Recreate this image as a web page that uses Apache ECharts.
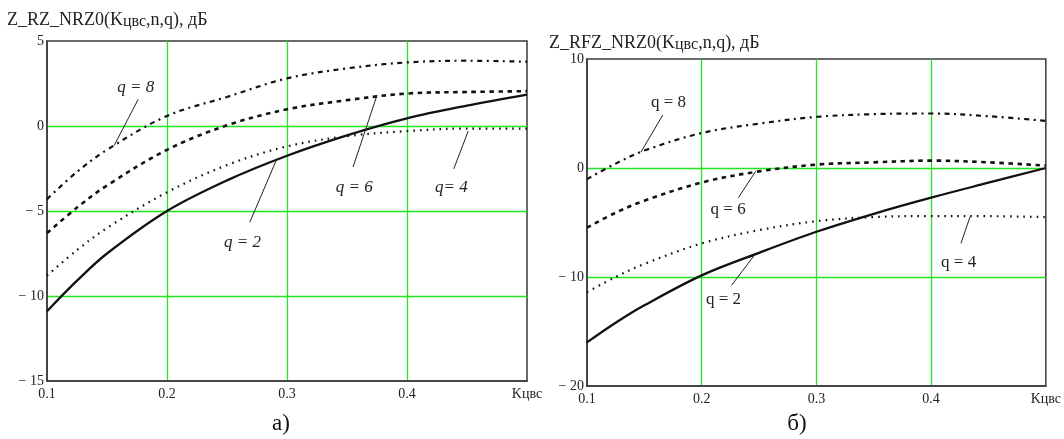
<!DOCTYPE html>
<html><head><meta charset="utf-8">
<script src="https://cdn.jsdelivr.net/npm/echarts@6/dist/echarts.min.js"></script>
<style>html,body{margin:0;padding:0;background:#fff}#c{width:1064px;height:439px}</style>
</head><body><div id="c"></div>
<script>
// ---- data ----
const xValues = [0.1, 0.125, 0.15, 0.2, 0.25, 0.3, 0.35, 0.4, 0.45, 0.5];
const leftQ2  = [-10.9, -9.1, -7.5, -5.0, -3.2, -1.75, -0.55, 0.45, 1.2, 1.85];
const leftQ4  = [-8.8, -7.3, -6.0, -3.9, -2.3, -1.2, -0.6, -0.3, -0.15, -0.15];
const leftQ6  = [-6.3, -4.8, -3.5, -1.4, 0.04, 0.98, 1.52, 1.91, 2.0, 2.05];
const leftQ8  = [-4.3, -2.7, -1.4, 0.59, 1.71, 2.8, 3.39, 3.74, 3.84, 3.78];
const rightQ2 = [-16.0, -14.2, -12.6, -9.85, -7.78, -5.85, -4.2, -2.72, -1.35, 0];
const rightQ4 = [-11.38, -10.0, -8.8, -6.92, -5.7, -4.88, -4.5, -4.41, -4.42, -4.5];
const rightQ6 = [-5.48, -4.1, -3.0, -1.33, -0.31, 0.31, 0.52, 0.68, 0.52, 0.22];
const rightQ8 = [-1.02, 0.4, 1.6, 3.21, 4.07, 4.69, 4.94, 5.0, 4.75, 4.32];
const xTickLabels = ['0.1', '0.2', '0.3', '0.4', 'Kцвс'];
const leftTitle = 'Z_RZ_NRZ0(K{s|цвс},n,q), дБ';
const rightTitle = 'Z_RFZ_NRZ0(K{s|цвс},n,q), дБ';
const leftCaption = 'а)';
const rightCaption = 'б)';
// annotations (data coordinates): label text, label point, leader line from/to
const leftNotes = [
  {text: 'q = 8', at: [0.174, 2.26], from: [0.176, 1.57], to: [0.156, -1.14]},
  {text: 'q = 6', at: [0.356, -3.64], from: [0.355, -2.42], to: [0.375, 1.81]},
  {text: 'q= 4',  at: [0.437, -3.64], from: [0.439, -2.52], to: [0.451, -0.30]},
  {text: 'q = 2', at: [0.263, -6.83], from: [0.269, -5.66], to: [0.291, -2.03]}
];
const rightNotes = [
  {text: 'q = 8', at: [0.171, 6.02], from: [0.166, 4.85], to: [0.147, 1.45]},
  {text: 'q = 6', at: [0.223, -3.80], from: [0.232, -2.72], to: [0.247, -0.31]},
  {text: 'q = 4', at: [0.424, -8.68], from: [0.426, -6.92], to: [0.434, -4.45]},
  {text: 'q = 2', at: [0.219, -12.06], from: [0.226, -10.77], to: [0.247, -7.85]}
];

const FONT = '"Liberation Serif","Times New Roman",serif';
const GREEN = '#22e622';
const FRAME = '#3a3a3a';
const pairs = ys => xValues.map((x, i) => [x, ys[i]]);
const yFmt = v => v < 0 ? '\u2212 ' + (-v) : String(v);
const xFmt = v => xTickLabels[Math.round((v - 0.1) * 10)] || '';

const styles = {
  q2: {type: 'solid', width: 2.3},
  q4: {type: [1.6, 5], width: 2.2},
  q6: {type: [4.5, 4.5], width: 2.6},
  q8: {type: [5, 4.5, 2, 4.5], width: 2.2}
};

function xAxis(gi) {
  return {
    gridIndex: gi, type: 'value', min: 0.1, max: 0.5, interval: 0.1,
    axisLine: {show: true, onZero: false, lineStyle: {color: FRAME, width: 1.5}},
    axisTick: {show: false},
    axisLabel: {formatter: xFmt, fontFamily: FONT, fontSize: 14, color: '#222', margin: 6, showMaxLabel: true, showMinLabel: true},
    splitLine: {show: true, showMinLine: false, showMaxLine: false, lineStyle: {color: GREEN, width: 1.3}}
  };
}
function yAxis(gi, min, max, interval) {
  return {
    gridIndex: gi, type: 'value', min: min, max: max, interval: interval,
    axisLine: {show: true, onZero: false, lineStyle: {color: FRAME, width: 1.5}},
    axisTick: {show: false},
    axisLabel: {formatter: yFmt, fontFamily: FONT, fontSize: 14, color: '#222', margin: 3},
    splitLine: {show: true, showMinLine: false, showMaxLine: false, lineStyle: {color: GREEN, width: 1.3}}
  };
}
function series(gi, ys, st) {
  return {
    type: 'line', xAxisIndex: gi, yAxisIndex: gi, data: pairs(ys), smooth: 0.35,
    showSymbol: false, symbol: 'none', silent: true, z: 5,
    lineStyle: {color: '#111', width: st.width, type: st.type, cap: 'butt'}
  };
}

const chart = echarts.init(document.getElementById('c'), null, {renderer: 'canvas'});
chart.setOption({
  backgroundColor: '#fff',
  animation: false,
  grid: [
    {left: 47, top: 41, width: 480, height: 340, show: true, borderColor: FRAME, borderWidth: 1.5, containLabel: false},
    {left: 587, top: 59, width: 460, height: 327, show: true, borderColor: FRAME, borderWidth: 1.5, containLabel: false}
  ],
  xAxis: [xAxis(0), xAxis(1)],
  yAxis: [yAxis(0, -15, 5, 5), yAxis(1, -20, 10, 10)],
  series: [
    series(0, leftQ2, styles.q2), series(0, leftQ4, styles.q4),
    series(0, leftQ6, styles.q6), series(0, leftQ8, styles.q8),
    series(1, rightQ2, styles.q2), series(1, rightQ4, styles.q4),
    series(1, rightQ6, styles.q6), series(1, rightQ8, styles.q8)
  ]
});

function noteGraphics(notes, gi, italic) {
  const out = [];
  notes.forEach(n => {
    const a = chart.convertToPixel({gridIndex: gi}, n.at);
    const f = chart.convertToPixel({gridIndex: gi}, n.from);
    const t = chart.convertToPixel({gridIndex: gi}, n.to);
    out.push({type: 'line', z: 20, silent: true,
      shape: {x1: f[0], y1: f[1], x2: t[0], y2: t[1]},
      style: {stroke: '#222', lineWidth: 1}});
    out.push({type: 'text', z: 20, silent: true, x: a[0], y: a[1],
      style: {text: n.text, fill: '#222', font: (italic ? 'italic ' : '') + '17px ' + FONT,
        textAlign: 'center', textVerticalAlign: 'middle'}});
  });
  return out;
}
const titleRich = {s: {fontFamily: FONT, fontSize: 16, fill: '#222', padding: [4, 0, 0, 0]}};
const g = [].concat(
  noteGraphics(leftNotes, 0, true),
  noteGraphics(rightNotes, 1, false),
  [
    {type: 'text', x: 7, y: 20, style: {text: leftTitle, rich: titleRich, fill: '#222', fontFamily: FONT, fontSize: 18, textVerticalAlign: 'middle'}},
    {type: 'text', x: 549, y: 43, style: {text: rightTitle, rich: titleRich, fill: '#222', fontFamily: FONT, fontSize: 18, textVerticalAlign: 'middle'}},
    {type: 'text', x: 281, y: 424, style: {text: leftCaption, fill: '#111', font: '23px ' + FONT, textAlign: 'center', textVerticalAlign: 'middle'}},
    {type: 'text', x: 797, y: 424, style: {text: rightCaption, fill: '#111', font: '23px ' + FONT, textAlign: 'center', textVerticalAlign: 'middle'}}
  ]
);
chart.setOption({graphic: g});
</script>
</body></html>
